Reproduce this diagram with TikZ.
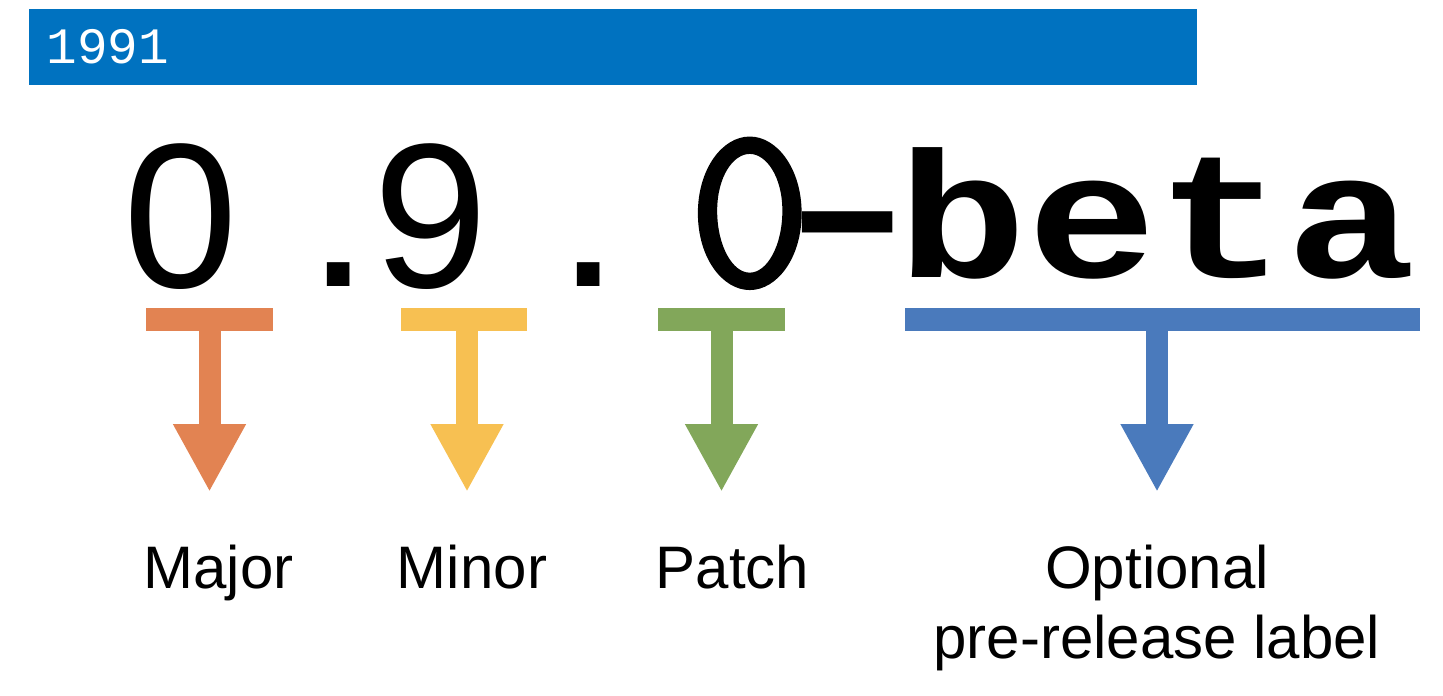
\documentclass[tikz,border=0pt]{standalone}
\usepackage{fontspec}
\setmainfont{Liberation Sans}
\newfontfamily\codefont{Liberation Mono}
\newfontfamily\zerofont[FakeBold=1.2]{lmmono10-regular.otf}
\usetikzlibrary{arrows.meta}

\definecolor{bandblue}{HTML}{0072C0}
\definecolor{majorcol}{HTML}{E28352}
\definecolor{minorcol}{HTML}{F7C052}
\definecolor{patchcol}{HTML}{82A75A}
\definecolor{precol}{HTML}{4A7ABC}

% thick short dash between patch number and label
\newcommand{\labeldash}{\raisebox{9pt}{\rmfamily\bfseries\fontsize{178}{178}\selectfont\scalebox{1}[0.5]{-}}}

\begin{document}
\begin{tikzpicture}[x=0.5pt, y=-0.5pt]

% Canvas of the picture
\useasboundingbox (0,0) rectangle (1443,695);

% Styles for the heading band and the version string
\tikzstyle{band} = [fill=bandblue, inner sep=0pt, minimum width=584pt, minimum height=38pt, anchor=north west]
\tikzstyle{year} = [inner sep=0pt, anchor=base, text=white, font=\codefont\fontsize{25.5}{25.5}\selectfont]
\tikzstyle{digit} = [inner sep=0pt, anchor=base, font=\fontsize{103}{103}\selectfont]
\tikzstyle{dot} = [inner sep=0pt, anchor=base, font=\bfseries\fontsize{80}{80}\selectfont]
\tikzstyle{code} = [inner sep=0pt, anchor=base west, font=\zerofont\fontsize{119}{119}\selectfont]
\tikzstyle{boldcode} = [inner sep=0pt, anchor=base west, font=\codefont\bfseries\fontsize{108}{108}\selectfont]

% Styles for the coloured markers and labels
\tikzstyle{marker} = [fill=#1, inner sep=0pt, minimum height=11.5pt]
\tikzstyle{pointer} = [draw=#1, line width=11pt, -{Triangle[width=34pt, length=34pt]}]
\tikzstyle{part} = [inner sep=0pt, anchor=base, align=center, font=\fontsize{30}{35}\selectfont]

% Heading band
\node[band] (band) at (29,9) {};
\node[year] (year) at (108,64) {1991};

% Version string
\node[digit] (major) at (181,287) {0};
\node[dot] (dota) at (339,286) {.};
\node[digit] (minor) at (431,287) {9};
\node[dot] (dotb) at (589,286) {.};
\node[code] (patch) at (687,286) {0\kern-12pt\labeldash};
\node[boldcode] (beta) at (897,277) {\scalebox{1}[0.83]{beta}};

% Markers under each part
\node[marker=majorcol, minimum width=63.5pt] (majorbar) at (209.5,319.5) {};
\node[marker=minorcol, minimum width=63pt] (minorbar) at (464,319.5) {};
\node[marker=patchcol, minimum width=63.5pt] (patchbar) at (721.5,319.5) {};
\node[marker=precol, minimum width=257.5pt] (prebar) at (1162.5,319.5) {};

% Arrow tips
\coordinate (majortip) at (209.5,492);
\coordinate (minortip) at (467,492);
\coordinate (patchtip) at (721.5,492);
\coordinate (pretip) at (1157,492);

\draw[pointer=majorcol] (majorbar.center -| majortip) -- (majortip);
\draw[pointer=minorcol] (minorbar.center -| minortip) -- (minortip);
\draw[pointer=patchcol] (patchbar.center -| patchtip) -- (patchtip);
\draw[pointer=precol] (prebar.center -| pretip) -- (pretip);

% Labels
\node[part] (majorlabel) at (218.5,588) {Major};
\node[part] (minorlabel) at (472,588) {Minor};
\node[part] (patchlabel) at (732.5,588) {Patch};
\node[part] (prelabel) at (1157,658) {Optional\\pre-release label};

\end{tikzpicture}
\end{document}
